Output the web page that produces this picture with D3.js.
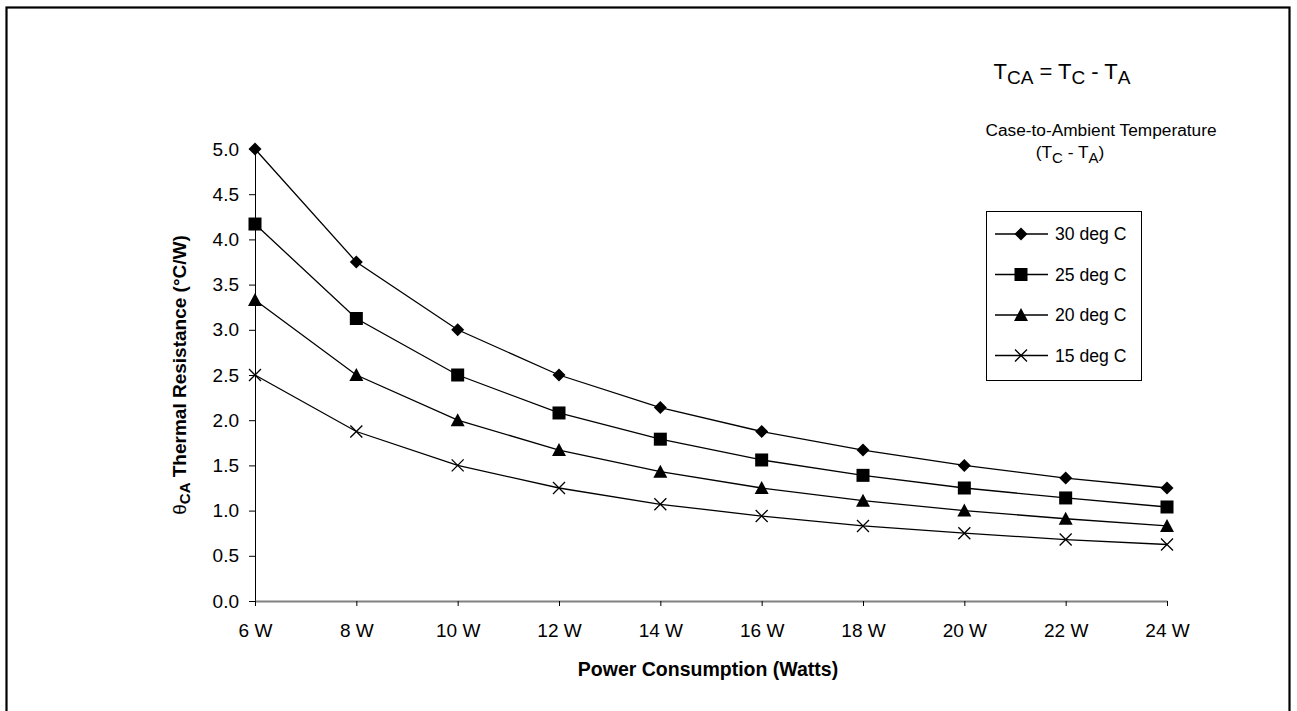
<!DOCTYPE html>
<html>
<head>
<meta charset="utf-8">
<script src="https://cdn.jsdelivr.net/npm/d3@7"></script>
<style>
  body { margin: 0; background: #fff; }
  svg { font-family: "Liberation Sans", Arial, sans-serif; }
</style>
</head>
<body>
<div id="chart"></div>
<script>
var categories = ["6 W", "8 W", "10 W", "12 W", "14 W", "16 W", "18 W", "20 W", "22 W", "24 W"];
var s30 = [5.0, 3.75, 3.0, 2.5, 2.14, 1.875, 1.67, 1.5, 1.36, 1.25];
var s25 = [4.17, 3.125, 2.5, 2.08, 1.79, 1.56, 1.39, 1.25, 1.14, 1.04];
var s20 = [3.33, 2.5, 2.0, 1.67, 1.43, 1.25, 1.11, 1.0, 0.91, 0.83];
var s15 = [2.5, 1.875, 1.5, 1.25, 1.07, 0.94, 0.83, 0.75, 0.68, 0.625];
var seriesNames = ["30 deg C", "25 deg C", "20 deg C", "15 deg C"];
var yTicks = [0, 0.5, 1.0, 1.5, 2.0, 2.5, 3.0, 3.5, 4.0, 4.5, 5.0];

var width = 1297, height = 711;
var series = [
    { name: seriesNames[0], values: s30, marker: "diamond" },
    { name: seriesNames[1], values: s25, marker: "square" },
    { name: seriesNames[2], values: s20, marker: "triangle" },
    { name: seriesNames[3], values: s15, marker: "cross" }
];

var svg = d3.select("#chart").append("svg")
    .attr("width", width)
    .attr("height", height);

// outer frame (bottom edge runs off the picture)
svg.append("rect")
    .attr("x", 6.5).attr("y", 7.5)
    .attr("width", 1283).attr("height", 710)
    .attr("fill", "none")
    .attr("stroke", "#000")
    .attr("stroke-width", 2.2);

var xScale = d3.scalePoint().domain(categories).range([255, 1167]);
var yScale = d3.scaleLinear().domain([0, 5]).range([601, 149]);

function drawMarker(g, type, x, y) {
    if (type === "diamond") {
        g.append("path")
            .attr("d", "M" + x + "," + (y - 6.5) + "L" + (x + 6.5) + "," + y + "L" + x + "," + (y + 6.5) + "L" + (x - 6.5) + "," + y + "Z")
            .attr("fill", "#000");
    } else if (type === "square") {
        g.append("rect")
            .attr("x", x - 6.5).attr("y", y - 6.5)
            .attr("width", 13).attr("height", 13)
            .attr("fill", "#000");
    } else if (type === "triangle") {
        g.append("path")
            .attr("d", "M" + x + "," + (y - 7) + "L" + (x + 7) + "," + (y + 6) + "L" + (x - 7) + "," + (y + 6) + "Z")
            .attr("fill", "#000");
    } else {
        g.append("path")
            .attr("d", "M" + (x - 6) + "," + (y - 6) + "L" + (x + 6) + "," + (y + 6) + "M" + (x + 6) + "," + (y - 6) + "L" + (x - 6) + "," + (y + 6))
            .attr("stroke", "#000")
            .attr("stroke-width", 1.3)
            .attr("fill", "none");
    }
}

// y axis
var yAxis = svg.append("g")
    .attr("transform", "translate(255,0)")
    .call(d3.axisLeft(yScale).tickValues(yTicks).tickSize(6).tickPadding(10).tickFormat(d3.format(".1f")));
yAxis.select(".domain").attr("stroke", "#000");
yAxis.selectAll("text").attr("font-size", "19px").attr("fill", "#000").attr("font-family", "Liberation Sans, Arial, sans-serif");

// x axis
var xAxis = svg.append("g")
    .attr("transform", "translate(0,601)")
    .call(d3.axisBottom(xScale).tickSize(5).tickSizeOuter(0).tickPadding(18));
xAxis.select(".domain").attr("stroke", "#808080").attr("stroke-width", 2);
xAxis.selectAll(".tick line").attr("stroke", "#000");
xAxis.selectAll("text").attr("font-size", "19px").attr("fill", "#000").attr("font-family", "Liberation Sans, Arial, sans-serif");

// lines and markers
var line = d3.line()
    .x(function(d, i) { return xScale(categories[i]); })
    .y(function(d) { return yScale(d); });

series.forEach(function(s) {
    svg.append("path")
        .datum(s.values)
        .attr("d", line)
        .attr("fill", "none")
        .attr("stroke", "#000")
        .attr("stroke-width", 1.3);
    var g = svg.append("g");
    s.values.forEach(function(v, i) {
        drawMarker(g, s.marker, xScale(categories[i]), yScale(v));
    });
});

// axis titles
svg.append("text")
    .attr("x", 708).attr("y", 676)
    .attr("text-anchor", "middle")
    .attr("font-size", "19.5px")
    .attr("font-weight", "bold")
    .text("Power Consumption (Watts)");

var yTitle = svg.append("text")
    .attr("transform", "translate(186,375) rotate(-90)")
    .attr("text-anchor", "middle")
    .attr("font-size", "19px")
    .attr("font-weight", "bold");
yTitle.append("tspan").attr("font-weight", "normal").text("θ");
yTitle.append("tspan").attr("font-size", "15px").attr("dy", 4).text("CA");
yTitle.append("tspan").attr("dy", -4).text(" Thermal Resistance (°C/W)");

// annotation texts
var t1 = svg.append("text")
    .attr("x", 1062).attr("y", 79)
    .attr("text-anchor", "middle")
    .attr("font-size", "22px");
t1.append("tspan").text("T");
t1.append("tspan").attr("font-size", "19px").attr("dy", 5).text("CA");
t1.append("tspan").attr("dy", -5).text(" = T");
t1.append("tspan").attr("font-size", "19px").attr("dy", 5).text("C");
t1.append("tspan").attr("dy", -5).text(" - T");
t1.append("tspan").attr("font-size", "19px").attr("dy", 5).text("A");

svg.append("text")
    .attr("x", 1101).attr("y", 136)
    .attr("text-anchor", "middle")
    .attr("font-size", "17.3px")
    .text("Case-to-Ambient Temperature");

var t2 = svg.append("text")
    .attr("x", 1070).attr("y", 158)
    .attr("text-anchor", "middle")
    .attr("font-size", "17.3px");
t2.append("tspan").text("(T");
t2.append("tspan").attr("font-size", "15px").attr("dy", 5).text("C");
t2.append("tspan").attr("dy", -5).text(" - T");
t2.append("tspan").attr("font-size", "15px").attr("dy", 5).text("A");
t2.append("tspan").attr("dy", -5).text(")");

// legend
var legend = svg.append("g");
legend.append("rect")
    .attr("x", 986.5).attr("y", 211.5)
    .attr("width", 155).attr("height", 169)
    .attr("fill", "#fff")
    .attr("stroke", "#000")
    .attr("stroke-width", 1);

series.forEach(function(s, i) {
    var y = 234 + i * 40.5;
    legend.append("line")
        .attr("x1", 995).attr("x2", 1048)
        .attr("y1", y).attr("y2", y)
        .attr("stroke", "#000")
        .attr("stroke-width", 1.3);
    drawMarker(legend, s.marker, 1021, y);
    legend.append("text")
        .attr("x", 1055).attr("y", y + 6)
        .attr("font-size", "17.6px")
        .text(s.name);
});
</script>
</body>
</html>
